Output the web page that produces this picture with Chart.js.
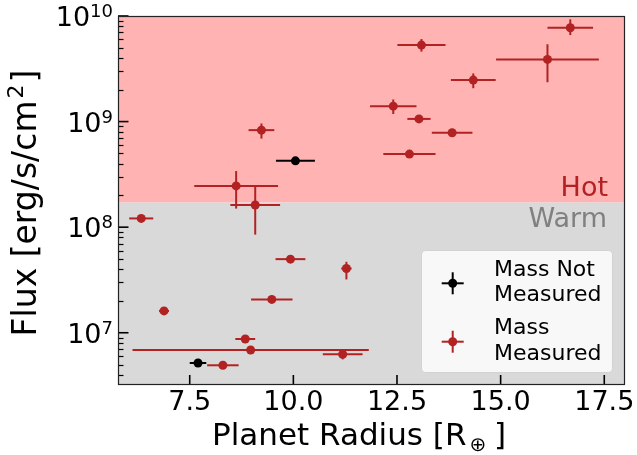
<!DOCTYPE html>
<html>
<head>
<meta charset="utf-8">
<script src="https://cdn.jsdelivr.net/npm/chart.js"></script>
<style>
  html, body { margin: 0; padding: 0; background: #fff; }
  canvas { display: block; }
</style>
</head>
<body>
<canvas id="myChart" width="637" height="455"></canvas>
<script>
// planets with a measured mass (red)
const measuredRadius    = [9.23, 8.62, 9.08, 16.68, 13.09, 16.13, 14.34, 12.41, 13.03, 13.83, 12.80, 6.33, 9.93, 11.28, 9.48, 6.88, 8.84, 8.97, 11.19, 8.30];
const measuredRadiusErr = [0.31, 1.01, 0.60, 0.55, 0.58, 1.24, 0.54, 0.56, 0.28, 0.49, 0.63, 0.29, 0.36, 0.125, 0.50, 0.12, 0.24, 2.85, 0.48, 0.38];
const measuredFlux      = [8.3e8, 2.46e8, 1.62e8, 7.74e9, 5.3e9, 3.88e9, 2.47e9, 1.40e9, 1.06e9, 7.83e8, 4.92e8, 1.21e8, 4.98e7, 4.06e7, 2.07e7, 1.61e7, 8.73e6, 6.87e6, 6.25e6, 4.92e6];
const measuredFluxLow   = [6.9e8, 1.5e8, 8.5e7, 6.6e9, 4.6e9, 2.36e9, 2.07e9, 1.18e9, 1.0e9, 7.2e8, 4.7e8, 1.13e8, 4.7e7, 3.2e7, 1.95e7, 1.55e7, 8.3e6, 6.6e6, 5.6e6, 4.75e6];
const measuredFluxHigh  = [9.6e8, 3.4e8, 2.41e8, 9.3e9, 6.05e9, 5.4e9, 2.86e9, 1.62e9, 1.12e9, 8.5e8, 5.15e8, 1.3e8, 5.3e7, 4.7e7, 2.2e7, 1.68e7, 9.2e6, 7.15e6, 6.9e6, 5.1e6];

// planets without a mass measurement (black)
const unmeasuredRadius    = [10.05, 7.70];
const unmeasuredRadiusErr = [0.47, 0.20];
const unmeasuredFlux      = [4.25e8, 5.17e6];
const unmeasuredFluxLow   = [4.1e8, 5.0e6];
const unmeasuredFluxHigh  = [4.4e8, 5.35e6];

const xTicks = [7.5, 10, 12.5, 15, 17.5];
const yDecades = [7, 8, 9, 10];
const hotLimit = 1.71e8;   // Hot / Warm boundary

const FONT = "'DejaVu Sans', sans-serif";
const RED = '#b22222';

const toPoints = (xs, ys) => xs.map((x, i) => ({ x: x, y: ys[i] }));

function line(ctx, x1, y1, x2, y2) {
    ctx.beginPath();
    ctx.moveTo(x1, y1);
    ctx.lineTo(x2, y2);
    ctx.stroke();
}

function drawErrorMarker(ctx, cx, cy, color) {
    ctx.strokeStyle = color;
    ctx.fillStyle = color;
    ctx.lineWidth = 2;
    line(ctx, cx - 11, cy, cx + 11, cy);
    line(ctx, cx, cy - 11, cx, cy + 11);
    ctx.beginPath();
    ctx.arc(cx, cy, 4.5, 0, Math.PI * 2);
    ctx.fill();
}

// background bands + error bars, under the markers
const bandsAndErrors = {
    id: 'bandsAndErrors',
    beforeDatasetsDraw(chart) {
        const { ctx, chartArea: a, scales: { x, y } } = chart;
        const yb = y.getPixelForValue(hotLimit);
        ctx.save();
        ctx.fillStyle = '#ffb3b3';
        ctx.fillRect(a.left, a.top, a.width, yb - a.top);
        ctx.fillStyle = '#d9d9d9';
        ctx.fillRect(a.left, yb, a.width, a.bottom - yb);

        ctx.font = `27px ${FONT}`;
        ctx.textAlign = 'right';
        ctx.textBaseline = 'alphabetic';
        ctx.fillStyle = RED;
        ctx.fillText('Hot', a.right - 17, yb - 7);
        ctx.fillStyle = '#808080';
        ctx.fillText('Warm', a.right - 18, yb + 24);

        ctx.beginPath();
        ctx.rect(a.left, a.top, a.width, a.height);
        ctx.clip();
        ctx.lineWidth = 2;
        chart.data.datasets.forEach((ds) => {
            ctx.strokeStyle = ds.borderColor;
            ds.data.forEach((p, i) => {
                const px = x.getPixelForValue(p.x);
                const py = y.getPixelForValue(p.y);
                line(ctx, x.getPixelForValue(p.x - ds.xErr[i]), py, x.getPixelForValue(p.x + ds.xErr[i]), py);
                line(ctx, px, y.getPixelForValue(ds.yLow[i]), px, y.getPixelForValue(ds.yHigh[i]));
            });
        });
        ctx.restore();
    }
};

// frame, inward ticks, y labels, axis titles, legend
const decorations = {
    id: 'decorations',
    afterDraw(chart) {
        const { ctx, chartArea: a, scales: { x, y } } = chart;
        ctx.save();
        ctx.strokeStyle = '#000';

        // minor log ticks
        ctx.lineWidth = 1.2;
        for (let e = 6; e < 10; e++) {
            for (let m = 2; m < 10; m++) {
                const v = m * Math.pow(10, e);
                if (v < y.min || v > y.max) continue;
                const py = Math.round(y.getPixelForValue(v)) + 0.5;
                line(ctx, a.left, py, a.left + 5.5, py);
            }
        }
        // major ticks
        ctx.lineWidth = 1.6;
        yDecades.forEach((e) => {
            const py = y.getPixelForValue(Math.pow(10, e));
            line(ctx, a.left, py, a.left + 10.5, py);
        });
        xTicks.forEach((v) => {
            const px = x.getPixelForValue(v);
            line(ctx, px, a.bottom, px, a.bottom - 10);
        });

        // frame
        ctx.lineWidth = 1.2;
        ctx.strokeStyle = '#222';
        ctx.strokeRect(a.left + 0.5, a.top + 0.5, a.width - 1, a.height - 1);

        // y tick labels 10^n
        ctx.fillStyle = '#000';
        ctx.textAlign = 'right';
        ctx.textBaseline = 'alphabetic';
        yDecades.forEach((e) => {
            const py = y.getPixelForValue(Math.pow(10, e));
            ctx.font = `18px ${FONT}`;
            const w = ctx.measureText(String(e)).width;
            ctx.fillText(String(e), a.left - 5, py + 1);
            ctx.font = `27px ${FONT}`;
            ctx.fillText('10', a.left - 5 - w, py + 10);
        });

        // x title: Planet Radius [R_⊕ ]
        ctx.textAlign = 'left';
        ctx.font = `31px ${FONT}`;
        const t1 = 'Planet Radius [R', t3 = ' ]';
        const w1 = ctx.measureText(t1).width;
        ctx.font = `20px ${FONT}`;
        const w2 = ctx.measureText('\u2295').width;
        const sx = 212;
        ctx.font = `31px ${FONT}`;
        ctx.fillText(t1, sx, 445);
        ctx.font = `20px ${FONT}`;
        ctx.fillText('\u2295', sx + w1 + 3, 451);
        ctx.font = `31px ${FONT}`;
        ctx.fillText(t3, sx + w1 + w2 + 1, 445);

        // y title: Flux [erg/s/cm^2]
        ctx.save();
        ctx.translate(36, 203);
        ctx.rotate(-Math.PI / 2);
        const u1 = 'Flux [erg/s/cm', u3 = ']';
        ctx.font = `33px ${FONT}`;
        const v1 = ctx.measureText(u1).width, v3 = ctx.measureText(u3).width;
        ctx.font = `22px ${FONT}`;
        const v2 = ctx.measureText('2').width;
        const sy = -(v1 + v2 + v3 + 4) / 2;
        ctx.font = `33px ${FONT}`;
        ctx.fillText(u1, sy, 0);
        ctx.font = `22px ${FONT}`;
        ctx.fillText('2', sy + v1 + 2, -13);
        ctx.font = `33px ${FONT}`;
        ctx.fillText(u3, sy + v1 + v2 + 4, 0);
        ctx.restore();

        // legend
        const lx = 421.5, ly = 250.5, lw = 191, lh = 122;
        ctx.fillStyle = 'rgba(255,255,255,0.8)';
        ctx.strokeStyle = 'rgba(204,204,204,0.8)';
        ctx.lineWidth = 1;
        ctx.beginPath();
        ctx.roundRect(lx, ly, lw, lh, 4);
        ctx.fill();
        ctx.stroke();

        drawErrorMarker(ctx, 452.7, 283.3, '#000');
        drawErrorMarker(ctx, 452.7, 341.7, RED);
        ctx.fillStyle = '#000';
        ctx.font = `22px ${FONT}`;
        ctx.textAlign = 'left';
        ctx.fillText('Mass Not', 494, 276);
        ctx.fillText('Measured', 494, 301);
        ctx.fillText('Mass', 494, 334);
        ctx.fillText('Measured', 494, 360);
        ctx.restore();
    }
};

const config = {
    type: 'scatter',
    data: {
        datasets: [
            {
                label: 'Mass Not Measured',
                data: toPoints(unmeasuredRadius, unmeasuredFlux),
                xErr: unmeasuredRadiusErr,
                yLow: unmeasuredFluxLow,
                yHigh: unmeasuredFluxHigh,
                borderColor: '#000',
                backgroundColor: '#000',
                pointRadius: 4.5,
                pointBorderWidth: 0
            },
            {
                label: 'Mass Measured',
                data: toPoints(measuredRadius, measuredFlux),
                xErr: measuredRadiusErr,
                yLow: measuredFluxLow,
                yHigh: measuredFluxHigh,
                borderColor: RED,
                backgroundColor: RED,
                pointRadius: 4.5,
                pointBorderWidth: 0
            }
        ]
    },
    options: {
        responsive: false,
        animation: false,
        devicePixelRatio: 1,
        layout: { padding: { left: 0, top: 16, right: 12, bottom: 0 } },
        plugins: {
            legend: { display: false },
            tooltip: { enabled: false }
        },
        scales: {
            x: {
                type: 'linear',
                min: 5.77,
                max: 18.0,
                grid: { display: false, drawTicks: false },
                border: { display: false },
                afterBuildTicks: (s) => { s.ticks = xTicks.map((v) => ({ value: v })); },
                ticks: {
                    font: { family: FONT, size: 27 },
                    color: '#000',
                    padding: 2,
                    maxRotation: 0,
                    autoSkip: false,
                    callback: (v) => Number(v).toFixed(1)
                },
                afterFit: (s) => { s.height = 70; }
            },
            y: {
                type: 'logarithmic',
                min: 3.2e6,
                max: 1e10,
                grid: { display: false },
                border: { display: false },
                ticks: { display: false },
                afterFit: (s) => { s.width = 118; }
            }
        }
    },
    plugins: [bandsAndErrors, decorations]
};

const myChart = new Chart(document.getElementById('myChart'), config);
</script>
</body>
</html>
